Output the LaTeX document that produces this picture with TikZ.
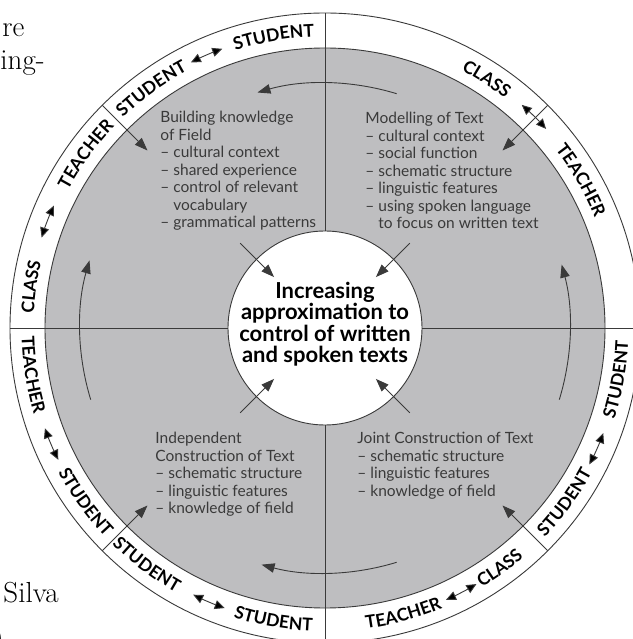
\documentclass[tikz,border=0pt]{standalone}
\usepackage{fontspec}
\setsansfont{Lato}
\usetikzlibrary{arrows.meta,decorations.text}

\definecolor{disc}{RGB}{190,190,192}
\definecolor{ink}{RGB}{58,58,58}

\newcommand{\ringfont}{\sffamily\bfseries\fontsize{17.5}{17.5}\selectfont}
% word in the upper half of the ring, read clockwise
\newcommand{\upword}[2]{%
  \path[decorate,decoration={text along path,text align=center,text={|\ringfont|#2}}]
    ({#1+25}:291.5) arc[start angle={#1+25},end angle={#1-25},radius=291.5];}
% word in the lower half of the ring, read anticlockwise
\newcommand{\downword}[2]{%
  \path[decorate,decoration={text along path,text align=center,text={|\ringfont|#2}}]
    ({#1-25}:303.5) arc[start angle={#1-25},end angle={#1+25},radius=303.5];}
% small two-way arrow along the ring
\newcommand{\swap}[1]{%
  \draw[<->,>={Triangle[length=10pt,width=9pt]}]
    ({#1-3.3}:297.5) arc[start angle={#1-3.3},end angle={#1+3.3},radius=297.5];}

\tikzset{
  quad/.style={font=\sffamily\fontsize{15.5}{17.5}\selectfont,text=ink,align=left,inner sep=0pt},
  page/.style={font=\fontsize{29}{29}\selectfont,inner sep=0pt},
}

\begin{document}
\begin{tikzpicture}[x=1pt,y=1pt,line width=0.9pt,draw=ink,>={Triangle[length=13pt,width=9.5pt]}]
\useasboundingbox (-325,-311) rectangle (307,328);
\fill[white] (-325,-311) rectangle (307,328);

% ring and disc
\draw (0,0) circle[radius=315];
\draw[fill=disc] (0,0) circle[radius=280];
\draw (-315,0) -- (315,0);
\draw (0,-315) -- (0,315);
\foreach \a in {45,135,225,315}
  \draw (\a:280) -- (\a:315);

% centre
\node[circle,draw,fill=white,minimum size=194pt,inner sep=0pt] (core) at (0,0) {};
\node[font=\sffamily\bfseries\fontsize{22}{21.5}\selectfont,align=center,inner sep=0pt] (goal) at (0,4)
  {Increasing\\approximation to\\control of written\\and spoken texts};

% the four stages
\node[quad,anchor=north west] (field) at (-165,217) {Building knowledge\\of Field\\– cultural context\\– shared experience\\– control of relevant\\\phantom{– }vocabulary\\– grammatical patterns};
\node[quad,anchor=north west] (model) at (40,216) {Modelling of Text\\– cultural context\\– social function\\– schematic structure\\– linguistic features\\– using spoken language\\\phantom{– }to focus on written text};
\node[quad,anchor=north west] (indep) at (-170,-104) {Independent\\Construction of Text\\– schematic structure\\– linguistic features\\– knowledge of field};
\node[quad,anchor=north west] (joint) at (32,-104) {Joint Construction of Text\\– schematic structure\\– linguistic features\\– knowledge of field};

% arrows into the centre and in from the ring
\foreach \a in {45,135,225,315}{
  \draw[->] (\a:120) -- (\a:72);
  \draw[->] (\a:280) -- (\a:251);
}

% cycle arrows
\draw[->] (73:245) arc[start angle=73,end angle=106,radius=245];
\draw[->] (197:245) arc[start angle=197,end angle=164,radius=245];
\draw[->] (-73:245) arc[start angle=-73,end angle=-105,radius=245];
\draw[->] (-17:245) arc[start angle=-17,end angle=15,radius=245];

% ring labels
\upword{126}{STUDENT} \swap{113.5} \upword{100}{STUDENT}
\upword{172}{CLASS} \swap{159} \upword{144}{TEACHER}
\upword{57}{CLASS} \swap{45.3} \upword{30}{TEACHER}
\downword{189}{TEACHER} \swap{203} \downword{216}{STUDENT}
\downword{233}{STUDENT} \swap{247} \downword{260}{STUDENT}
\downword{285.3}{TEACHER} \swap{297.3} \downword{306}{CLASS}
\downword{324}{STUDENT} \swap{336} \downword{350}{STUDENT}

% bits of the page around the figure
\node[page,anchor=base west] (re) at (-323,291) {re};
\node[page,anchor=base west] (ing) at (-325,258) {ing-};
\node[page,anchor=base west] (silva) at (-322,-274) {Silva};
\node[page,anchor=base east] (paren) at (-321,-319) {)};
\end{tikzpicture}
\end{document}
